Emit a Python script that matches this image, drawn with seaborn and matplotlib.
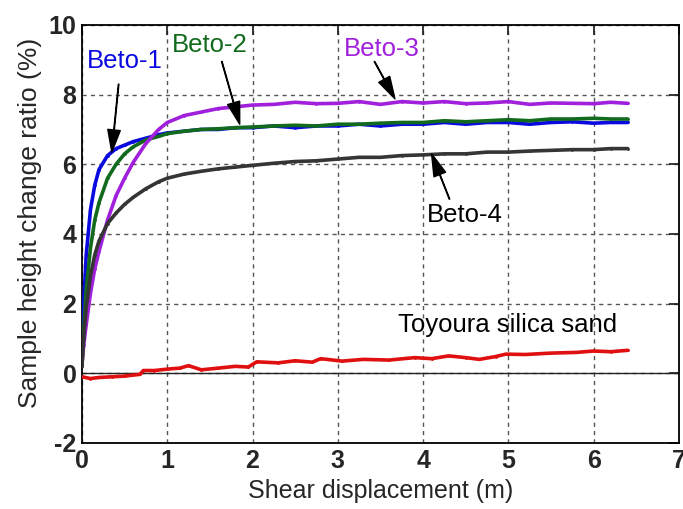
import numpy as np
import pandas as pd
import matplotlib
matplotlib.use("Agg")
import matplotlib.pyplot as plt
import seaborn as sns

# ---- data ----
x_beto = [0, 0.02, 0.05, 0.1, 0.15, 0.2, 0.3, 0.4, 0.5, 0.6, 0.75, 0.9, 1.0,
          1.2, 1.4, 1.6, 1.8, 2.0, 2.25, 2.5, 2.75, 3.0, 3.25, 3.5, 3.75, 4.0,
          4.25, 4.5, 4.75, 5.0, 5.25, 5.5, 5.75, 6.0, 6.2, 6.4]
beto1 = [0.3, 2.0, 3.4, 4.7, 5.4, 5.85, 6.25, 6.45, 6.55, 6.65, 6.75, 6.85, 6.9,
         6.95, 7.0, 7.0, 7.05, 7.05, 7.1, 7.05, 7.1, 7.1, 7.15, 7.1, 7.15, 7.15,
         7.2, 7.15, 7.2, 7.2, 7.15, 7.2, 7.22, 7.18, 7.2, 7.2]
beto2 = [0.2, 1.2, 2.4, 3.6, 4.4, 4.9, 5.6, 6.0, 6.3, 6.5, 6.7, 6.8, 6.88,
         6.95, 7.0, 7.02, 7.05, 7.07, 7.1, 7.12, 7.1, 7.15, 7.15, 7.18, 7.2, 7.2,
         7.25, 7.22, 7.25, 7.28, 7.25, 7.3, 7.3, 7.32, 7.3, 7.3]
beto3 = [0.3, 0.8, 1.4, 2.3, 3.0, 3.5, 4.4, 5.1, 5.6, 6.05, 6.6, 7.0, 7.2,
         7.4, 7.5, 7.6, 7.65, 7.7, 7.72, 7.78, 7.74, 7.75, 7.8, 7.72, 7.8, 7.76,
         7.8, 7.74, 7.76, 7.8, 7.72, 7.76, 7.75, 7.74, 7.78, 7.75]
beto4 = [0.2, 1.0, 1.9, 2.8, 3.4, 3.8, 4.3, 4.6, 4.85, 5.05, 5.3, 5.5, 5.6,
         5.72, 5.8, 5.87, 5.92, 5.97, 6.03, 6.08, 6.1, 6.15, 6.2, 6.2, 6.25, 6.27,
         6.3, 6.3, 6.35, 6.35, 6.38, 6.4, 6.42, 6.42, 6.45, 6.45]

x_sand = [0, 0.1, 0.2, 0.35, 0.5, 0.68, 0.72, 0.85, 1.0, 1.15, 1.25, 1.4, 1.6,
          1.8, 1.95, 2.05, 2.3, 2.5, 2.7, 2.8, 3.05, 3.3, 3.6, 3.9, 4.1, 4.3,
          4.5, 4.66, 4.85, 4.97, 5.2, 5.5, 5.8, 6.0, 6.2, 6.4]
sand = [-0.1, -0.15, -0.12, -0.1, -0.08, -0.03, 0.08, 0.08, 0.12, 0.15, 0.22, 0.1, 0.15,
        0.2, 0.18, 0.33, 0.3, 0.36, 0.32, 0.42, 0.35, 0.4, 0.38, 0.45, 0.42, 0.5,
        0.45, 0.4, 0.48, 0.55, 0.54, 0.58, 0.6, 0.64, 0.62, 0.66]

names = ["Beto-1", "Beto-2", "Beto-3", "Beto-4", "Toyoura silica sand"]
colors = {"Beto-1": "#0a0ae0", "Beto-2": "#126b1c", "Beto-3": "#a020dc",
          "Beto-4": "#353535", "Toyoura silica sand": "#e01010"}

frames = []
for nm, ys in zip(names[:4], [beto1, beto2, beto3, beto4]):
    frames.append(pd.DataFrame({"x": x_beto, "y": ys, "sample": nm}))
frames.append(pd.DataFrame({"x": x_sand, "y": sand, "sample": names[4]}))
df = pd.concat(frames, ignore_index=True)

sns.set_style("white")
plt.rcParams["font.family"] = ["Liberation Sans", "DejaVu Sans"]
plt.rcParams["axes.unicode_minus"] = False

fig = plt.figure(figsize=(6.83, 5.09), dpi=100)
ax = fig.add_axes([0.120, 0.1297, 0.874, 0.8213])

ax.axhline(0, color="#222222", lw=1.0, zorder=1)
sns.lineplot(data=df, x="x", y="y", hue="sample", palette=colors, legend=False,
             lw=2.6, marker=".", markersize=4, markeredgewidth=0,
             ax=ax, zorder=3, sort=False, estimator=None)

ax.set_xlim(0, 7)
ax.set_ylim(-2, 10)
ax.set_xticks(range(0, 8))
ax.set_yticks(range(-2, 11, 2))
ax.grid(True, color="#555555", ls=(0, (3, 3)), lw=1.0)
for s in ax.spines.values():
    s.set_color("black")
    s.set_linewidth(1.3)
ax.tick_params(direction="in", length=7, width=1.3, top=True, right=True,
               labelsize=18, pad=4)
for lab in ax.get_xticklabels() + ax.get_yticklabels():
    lab.set_fontweight("bold")
ax.set_xlabel("Shear displacement (m)", fontsize=18, labelpad=5)
ax.set_ylabel("Sample height change ratio (%)", fontsize=19, labelpad=5)
ax.yaxis.label.set_y(0.526)

arrow = dict(facecolor="black", edgecolor="black", width=0.4, headwidth=9,
             headlength=16, shrink=0)
fs = 18.5
ax.text(0.5, 8.97, "Beto-1", color=colors["Beto-1"], fontsize=fs, ha="center", va="center")
ax.annotate("", xy=(0.35, 6.35), xytext=(0.43, 8.3), arrowprops=arrow)
ax.text(1.5, 9.43, "Beto-2", color=colors["Beto-2"], fontsize=fs, ha="center", va="center")
ax.annotate("", xy=(1.85, 7.15), xytext=(1.64, 8.95), arrowprops=arrow)
ax.text(3.52, 9.31, "Beto-3", color=colors["Beto-3"], fontsize=fs, ha="center", va="center")
ax.annotate("", xy=(3.67, 7.88), xytext=(3.43, 8.95), arrowprops=arrow)
ax.text(4.49, 4.54, "Beto-4", color="black", fontsize=fs, ha="center", va="center")
ax.annotate("", xy=(4.1, 6.3), xytext=(4.31, 5.0), arrowprops=arrow)
ax.text(4.99, 1.38, "Toyoura silica sand", color="black", fontsize=fs, ha="center", va="center")

fig.savefig("out.png", dpi=100)
